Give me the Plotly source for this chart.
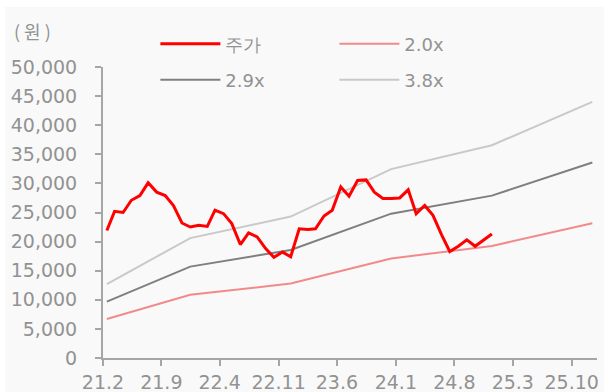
import pandas as pd
import plotly.graph_objects as go

# Monthly closing price (원), 2021.02 – 2024.12
price_months = pd.period_range("2021-02", "2024-12", freq="M")
price = [
    21900, 25200, 25000, 27100, 27900, 30100, 28500, 27900, 26200, 23200,
    22500, 22800, 22600, 25400, 24800, 23100, 19500, 21500, 20800, 18800,
    17300, 18200, 17400, 22200, 22100, 22200, 24400, 25400, 29400, 27800,
    30500, 30600, 28500, 27400, 27400, 27500, 28900, 24800, 26200, 24500,
    21200, 18300, 19200, 20300, 19200, 20200, 21300,
]

# PBR band anchor months and band levels (원)
band_months = pd.PeriodIndex(
    ["2021-02", "2021-12", "2022-12", "2023-12", "2024-12", "2025-12"], freq="M"
)
band_20x = [6700, 10850, 12800, 17100, 19250, 23150]
band_29x = [9700, 15700, 18550, 24800, 27900, 33600]
band_38x = [12700, 20600, 24300, 32450, 36550, 44000]

tick_months = ["2021-02", "2021-09", "2022-04", "2022-11", "2023-06",
               "2024-01", "2024-08", "2025-03", "2025-10"]
tick_labels = ["21.2", "21.9", "22.4", "22.11", "23.6",
               "24.1", "24.8", "25.3", "25.10"]


def mid_month(periods):
    return [p.to_timestamp() + pd.Timedelta(days=14) for p in periods]


FONT = "DejaVu Sans"
TXT = "#929292"
AXIS = "#a6a6a6"
PANEL = "#f9f9f9"

fig = go.Figure()
fig.add_trace(go.Scatter(x=mid_month(band_months), y=band_38x, name="3.8x",
                         mode="lines", line=dict(color="#c9c9c9", width=2),
                         legend="legend2"))
fig.add_trace(go.Scatter(x=mid_month(band_months), y=band_29x, name="2.9x",
                         mode="lines", line=dict(color="#7f7f7f", width=2),
                         legend="legend2", legendrank=1))
fig.add_trace(go.Scatter(x=mid_month(band_months), y=band_20x, name="2.0x",
                         mode="lines", line=dict(color="#f28a8a", width=2),
                         legend="legend"))
fig.add_trace(go.Scatter(x=mid_month(price_months), y=price, name="주가",
                         mode="lines", line=dict(color="#ff0000", width=3),
                         legend="legend", legendrank=1))

legend_common = dict(
    orientation="h", xanchor="left", yanchor="middle",
    font=dict(family=FONT, size=18, color=TXT),
    bgcolor="rgba(0,0,0,0)", itemwidth=60, entrywidth=104,
    traceorder="normal",
)

fig.update_layout(
    width=604, height=392,
    margin=dict(l=103, r=7, t=67, b=34),
    paper_bgcolor="#ffffff", plot_bgcolor=PANEL,
    showlegend=True,
    legend=dict(x=0.106, y=1.079, **legend_common),
    legend2=dict(x=0.106, y=0.955, **legend_common),
    xaxis=dict(
        type="date", automargin=False,
        range=["2021-02-01", "2026-01-01"],
        tickvals=[pd.Period(m, freq="M").to_timestamp() for m in tick_months],
        ticktext=tick_labels,
        ticks="outside", ticklen=6, tickwidth=2, tickcolor=AXIS,
        showline=True, linecolor=AXIS, linewidth=2,
        showgrid=False, zeroline=False,
        tickfont=dict(family=FONT, size=19, color=TXT),
    ),
    yaxis=dict(
        automargin=False,
        range=[0, 50000], dtick=5000, tickformat=",d",
        ticks="outside", ticklen=6, tickwidth=2, tickcolor=AXIS,
        showline=True, linecolor=AXIS, linewidth=2,
        showgrid=False, zeroline=False,
        ticklabelstandoff=14,
        tickfont=dict(family=FONT, size=19, color=TXT),
    ),
    # light panel behind the whole chart, leaving a thin white border top/left
    shapes=[dict(
        type="rect", xref="paper", yref="paper", layer="below",
        x0=-0.198, x1=1.1, y0=-0.2, y1=1.206,
        fillcolor=PANEL, line=dict(width=0),
    )],
    annotations=[dict(
        text="( 원 )", xref="paper", yref="paper", x=-0.142, y=1.124,
        xanchor="center", yanchor="middle", showarrow=False,
        font=dict(family="Noto Sans CJK KR", size=18, color=TXT),
    )],
)

fig.write_html("out.html")
